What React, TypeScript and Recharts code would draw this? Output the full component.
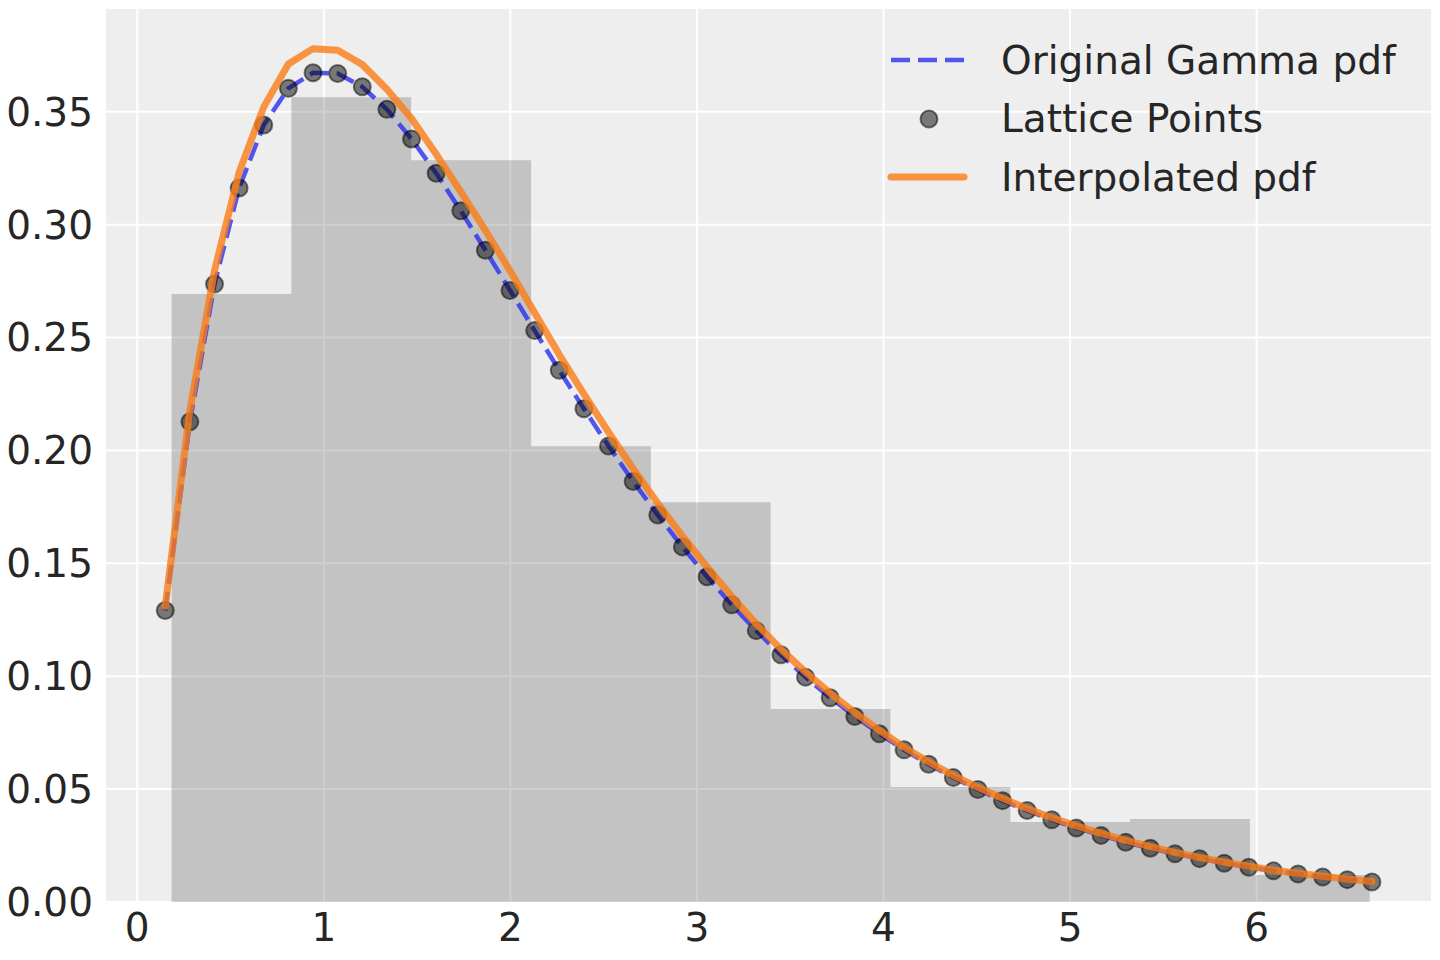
import { ComposedChart, Area, Line, Scatter, XAxis, YAxis, CartesianGrid, Legend } from 'recharts';

// lattice grid (x) and pdf values
const latticeX = [
    0.150, 0.282, 0.414, 0.546, 0.678, 0.810, 0.942, 1.074, 1.206, 1.338,
    1.470, 1.602, 1.734, 1.866, 1.998, 2.130, 2.262, 2.394, 2.526, 2.658,
    2.790, 2.922, 3.054, 3.186, 3.318, 3.450, 3.582, 3.714, 3.846, 3.978,
    4.110, 4.242, 4.374, 4.506, 4.638, 4.770, 4.902, 5.034, 5.166, 5.298,
    5.430, 5.562, 5.694, 5.826, 5.958, 6.090, 6.222, 6.354, 6.486, 6.618,
];

const gammaPdf = [
    0.1291, 0.2127, 0.2737, 0.3163, 0.3442, 0.3604, 0.3673, 0.3670, 0.3611, 0.3511,
    0.3380, 0.3228, 0.3062, 0.2887, 0.2709, 0.2531, 0.2355, 0.2185, 0.2020, 0.1863,
    0.1714, 0.1573, 0.1441, 0.1317, 0.1202, 0.1095, 0.0996, 0.0905, 0.0822, 0.0745,
    0.0674, 0.0610, 0.0551, 0.0498, 0.0449, 0.0405, 0.0364, 0.0328, 0.0295, 0.0265,
    0.0238, 0.0214, 0.0192, 0.0172, 0.0154, 0.0138, 0.0124, 0.0111, 0.0099, 0.0089,
];

const interpPdf = [
    0.1310, 0.2177, 0.2797, 0.3233, 0.3522, 0.3712, 0.3780, 0.3773, 0.3710, 0.3600,
    0.3470, 0.3313, 0.3146, 0.2975, 0.2796, 0.2610, 0.2425, 0.2250, 0.2081, 0.1919,
    0.1766, 0.1621, 0.1484, 0.1354, 0.1232, 0.1120, 0.1018, 0.0925, 0.0839, 0.0760,
    0.0686, 0.0620, 0.0561, 0.0508, 0.0459, 0.0414, 0.0373, 0.0337, 0.0304, 0.0273,
    0.0245, 0.0220, 0.0197, 0.0177, 0.0159, 0.0141, 0.0127, 0.0114, 0.0102, 0.0091,
];

// histogram of the samples
const binEdges = [0.184, 0.826, 1.468, 2.111, 2.753, 3.395, 4.037, 4.680, 5.322, 5.964, 6.606];
const binHeights = [0.2693, 0.3565, 0.3286, 0.2019, 0.1771, 0.0855, 0.0509, 0.0354, 0.0368, 0.0120];

const xTicks = [0, 1, 2, 3, 4, 5, 6];
const yTicks = [0, 0.05, 0.1, 0.15, 0.2, 0.25, 0.3, 0.35];

const gammaRows = latticeX.map((x, i) => ({ x, y: gammaPdf[i] }));
const interpRows = latticeX.map((x, i) => ({ x, y: interpPdf[i] }));
const histRows = binEdges.map((x, i) => ({ x, h: binHeights[Math.min(i, binHeights.length - 1)] }));

const FONT = '"DejaVu Sans", sans-serif';
const TEXT = '#262626';
const BLUE = '#2a2eec';
const ORANGE = '#fa7c17';

const LegendBox = () => {
    const row = { display: 'flex', alignItems: 'center', height: 58.5 };
    return (
        <div style={{ fontFamily: FONT, fontSize: 39, color: TEXT, whiteSpace: 'nowrap' }}>
            <div style={row}>
                <svg width={86} height={20}>
                    <line x1={6} y1={10} x2={79} y2={10} stroke={BLUE} strokeOpacity={0.8} strokeWidth={4.5} strokeDasharray="19 8" />
                </svg>
                <span style={{ marginLeft: 30 }}>Original Gamma pdf</span>
            </div>
            <div style={row}>
                <svg width={86} height={20}>
                    <circle cx={44} cy={10} r={8.5} fill="#000" fillOpacity={0.5} stroke="#000" strokeOpacity={0.5} strokeWidth={2} />
                </svg>
                <span style={{ marginLeft: 30 }}>Lattice Points</span>
            </div>
            <div style={row}>
                <svg width={86} height={20}>
                    <line x1={6} y1={10} x2={79} y2={10} stroke={ORANGE} strokeOpacity={0.8} strokeWidth={7} strokeLinecap="round" />
                </svg>
                <span style={{ marginLeft: 30 }}>Interpolated pdf</span>
            </div>
        </div>
    );
};

const Dot = (props: any) => (
    <circle cx={props.cx} cy={props.cy} r={8.5} fill="#000" fillOpacity={0.5} stroke="#000" strokeOpacity={0.5} strokeWidth={2} />
);

const App = () => {
    const tick = { fill: TEXT, fontSize: 39, fontFamily: FONT };
    return (
        <div style={{ position: 'absolute', left: 0, top: 0, width: 1440, height: 960, background: '#fff' }}>
            <ComposedChart width={1440} height={960} margin={{ top: 8, right: 8, left: 8, bottom: 0 }}>
                <CartesianGrid fill="#eeeeee" stroke="#ffffff" strokeWidth={2} />
                <XAxis
                    type="number"
                    dataKey="x"
                    domain={[-0.173, 6.94]}
                    ticks={xTicks}
                    allowDataOverflow
                    height={58}
                    axisLine={false}
                    tickLine={false}
                    tickSize={0}
                    tickMargin={11}
                    tick={tick}
                />
                <YAxis
                    type="number"
                    domain={[0, 0.396]}
                    ticks={yTicks}
                    allowDataOverflow
                    width={97}
                    axisLine={false}
                    tickLine={false}
                    tickSize={0}
                    tickMargin={12}
                    tick={tick}
                    tickFormatter={(v: number) => v.toFixed(2)}
                />
                <Legend
                    layout="horizontal"
                    align="center"
                    verticalAlign="middle"
                    wrapperStyle={{ left: 885, top: 31, width: 540 }}
                    content={() => <LegendBox />}
                />
                <Area
                    data={histRows}
                    dataKey="h"
                    type="stepAfter"
                    stroke="none"
                    fill="#5f5f5f"
                    fillOpacity={0.3}
                    isAnimationActive={false}
                    zIndex={100}
                />
                <Line
                    data={gammaRows}
                    dataKey="y"
                    type="linear"
                    stroke={BLUE}
                    strokeOpacity={0.8}
                    strokeWidth={4.5}
                    strokeDasharray="19 8"
                    dot={false}
                    activeDot={false}
                    isAnimationActive={false}
                    zIndex={400}
                />
                <Scatter
                    data={gammaRows}
                    dataKey="y"
                    shape={<Dot />}
                    isAnimationActive={false}
                    zIndex={450}
                />
                <Line
                    data={interpRows}
                    dataKey="y"
                    type="linear"
                    stroke={ORANGE}
                    strokeOpacity={0.8}
                    strokeWidth={7}
                    strokeLinecap="round"
                    strokeLinejoin="round"
                    dot={false}
                    activeDot={false}
                    isAnimationActive={false}
                    zIndex={460}
                />
            </ComposedChart>
        </div>
    );
};

export default App;
